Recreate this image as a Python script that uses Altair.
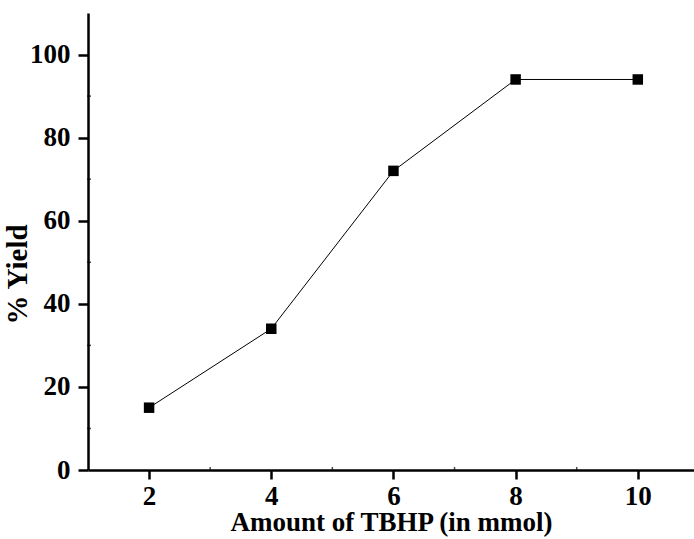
import altair as alt
import pandas as pd

# TBHP amount (mmol) vs. product yield (%)
tbhp_mmol = [2, 4, 6, 8, 10]
yield_pct = [15, 34, 72, 94, 94]

y_minor = [10, 30, 50, 70, 90]
x_minor = [3, 5, 7, 9]

df = pd.DataFrame({"tbhp": tbhp_mmol, "yield": yield_pct})
dfy = pd.DataFrame({"v": y_minor})
dfx = pd.DataFrame({"v": x_minor})

FONT = "Liberation Serif"

xscale = alt.Scale(domain=[1, 10.92], nice=False, zero=False)
yscale = alt.Scale(domain=[0, 110], nice=False)

xaxis = alt.Axis(
    values=[2, 4, 6, 8, 10], format="d", title="Amount of TBHP (in mmol)", grid=False,
    domainColor="black", domainWidth=2.5, tickColor="black", tickWidth=2.5, tickSize=9,
    labelFont=FONT, labelFontWeight="bold", labelFontSize=27, labelColor="black", labelPadding=4,
    titleFont=FONT, titleFontWeight="bold", titleFontSize=27, titleColor="black", titlePadding=0,
)
yaxis = alt.Axis(
    values=[0, 20, 40, 60, 80, 100], format="d", title="% Yield", grid=False,
    domainColor="black", domainWidth=2.5, tickColor="black", tickWidth=2.5, tickSize=10,
    labelFont=FONT, labelFontWeight="bold", labelFontSize=27, labelColor="black", labelPadding=8,
    titleFont=FONT, titleFontWeight="bold", titleFontSize=29, titleColor="black", titlePadding=-3,
    titleY=261,
)

line = alt.Chart(df).mark_line(color="black", strokeWidth=1).encode(
    x=alt.X("tbhp:Q", scale=xscale, axis=xaxis),
    y=alt.Y("yield:Q", scale=yscale, axis=yaxis),
)
points = alt.Chart(df).mark_square(color="black", size=110, opacity=1).encode(
    x=alt.X("tbhp:Q", scale=xscale),
    y=alt.Y("yield:Q", scale=yscale),
)
ytick = alt.Chart(dfy).mark_tick(color="black", size=4, thickness=1.5).encode(
    y=alt.Y("v:Q", scale=yscale), x=alt.value(1)
)
xtick = alt.Chart(dfx).mark_tick(color="black", size=4, thickness=1.5).encode(
    x=alt.X("v:Q", scale=xscale), y=alt.value(456)
)

chart = (
    alt.layer(line, points, ytick, xtick)
    .properties(
        width=606, height=457,
        autosize=alt.AutoSizeParams(type="none"),
        padding={"left": 88, "top": 13, "right": 0, "bottom": 69},
        background="white",
    )
    .configure_view(stroke=None)
)

chart.save("out.html", embed_options={"renderer": "svg", "actions": False})
